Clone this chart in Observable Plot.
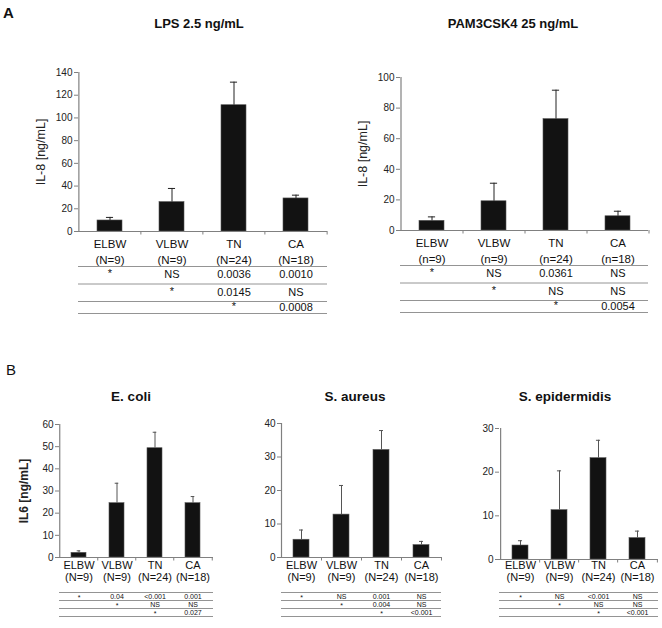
<!DOCTYPE html>
<html>
<head>
<meta charset="utf-8">
<script src="https://cdn.jsdelivr.net/npm/d3@7"></script>
<script src="https://cdn.jsdelivr.net/npm/@observablehq/plot@0.6"></script>
<style>
  body { margin: 0; background: #fff; font-family: "Liberation Sans", Arial, sans-serif; }
  #wrap { position: relative; width: 662px; height: 628px; overflow: hidden; background: #fff; }
  .title { position: absolute; font-weight: bold; font-size: 13px; color: #111; transform: translate(-50%, -50%); white-space: nowrap; }
  .plabel { position: absolute; font-size: 15px; color: #111; transform: translateY(-50%); }
</style>
</head>
<body>
<div id="wrap"></div>
<script>
// ---------------- data ----------------
const categories = ["ELBW", "VLBW", "TN", "CA"];
const nLabelsUpper = ["(N=9)", "(N=9)", "(N=24)", "(N=18)"];
const nLabelsLower = ["(n=9)", "(n=9)", "(n=24)", "(n=18)"];

const titles = ["LPS 2.5 ng/mL", "PAM3CSK4 25 ng/mL", "E. coli", "S. aureus", "S. epidermidis"];

const lpsMean = [9.7, 25.9, 111.2, 29.1];
const lpsErr = [2.7, 12.0, 20.3, 2.9];
const lpsTicks = [0, 20, 40, 60, 80, 100, 120, 140];
const lpsTable = [["*", "NS", "0.0036", "0.0010"], ["", "*", "0.0145", "NS"], ["", "", "*", "0.0008"]];

const pamMean = [6.3, 19.1, 72.8, 9.3];
const pamErr = [2.6, 11.8, 18.9, 3.3];
const pamTicks = [0, 20, 40, 60, 80, 100];
const pamTable = [["*", "NS", "0.0361", "NS"], ["", "*", "NS", "NS"], ["", "", "*", "0.0054"]];

const ecoliMean = [2.1, 24.5, 49.3, 24.5];
const ecoliErr = [0.9, 9.0, 7.2, 3.0];
const ecoliTicks = [0, 10, 20, 30, 40, 50, 60];
const ecoliTable = [["*", "0.04", "<0.001", "0.001"], ["", "*", "NS", "NS"], ["", "", "*", "0.027"]];

const aureusMean = [5.3, 12.8, 32.1, 3.7];
const aureusErr = [2.9, 8.7, 5.8, 1.1];
const aureusTicks = [0, 10, 20, 30, 40];
const aureusTable = [["*", "NS", "0.001", "NS"], ["", "*", "0.004", "NS"], ["", "", "*", "<0.001"]];

const epiMean = [3.2, 11.3, 23.2, 4.9];
const epiErr = [1.1, 9.0, 4.1, 1.6];
const epiTicks = [0, 10, 20, 30];
const epiTable = [["*", "NS", "<0.001", "NS"], ["", "*", "NS", "NS"], ["", "", "*", "<0.001"]];

// ---------------- drawing ----------------
const FONT = "Liberation Sans, Arial, sans-serif";
const AXIS = "#808080";
const wrap = document.getElementById("wrap");

function panel(cfg) {
  const {means, errs, nLabels, yTicks, yLabel, table, width, height, ml, mr, mt, mb,
         left, top, capW, labelSize, lineH, labelDy, lineOffs, rowOffs, tableSize, starShift,
         tickSize, yLabelSize, yLabelWeight, yLabelOffset, errColor} = cfg;
  const yMax = yTicks[yTicks.length - 1];
  const step = (width - ml - mr) / categories.length;
  const bw = step * 0.4;
  const pxPerUnit = (height - mt - mb) / yMax;
  const data = categories.map((c, i) => ({c, v: means[i], e: errs[i], lab: c + "\n" + nLabels[i]}));
  const cells = [];
  table.forEach((row, r) => row.forEach((t, i) => { if (t) cells.push({c: categories[i], r, t}); }));

  const marks = [
    Plot.barY(data, {x: "c", y: "v", fill: "#121212", stroke: "#555", strokeWidth: 0.6}),
    Plot.ruleX(data, {x: "c", y1: "v", y2: d => d.v + d.e, stroke: errColor, strokeWidth: 1}),
    Plot.tickY(data, {x: "c", y: d => d.v + d.e, stroke: errColor, strokeWidth: 1, insetLeft: (bw - capW) / 2, insetRight: (bw - capW) / 2}),
    Plot.axisY({ticks: yTicks, tickSize: 4, tickPadding: 2, fontSize: tickSize, color: "#222", stroke: AXIS,
                label: yLabel, labelAnchor: "center", labelArrow: "none", labelOffset: yLabelOffset}),
    Plot.ruleY([0], {stroke: AXIS, strokeWidth: 1.2}),
    Plot.ruleX([categories[0]], {x: d => d, dx: -step / 2, y1: 0, y2: yMax, stroke: AXIS, strokeWidth: 1.2}),
    Plot.ruleX(categories.slice(1), {x: d => d, dx: -step / 2, y1: 0, y2: -3.5 / pxPerUnit, stroke: AXIS}),
    Plot.ruleX([categories[categories.length - 1]], {x: d => d, dx: step / 2, y1: 0, y2: -3.5 / pxPerUnit, stroke: AXIS}),
    Plot.text(data, {x: "c", y: () => 0, text: "lab", lineAnchor: "top", dy: labelDy, fontSize: labelSize, lineHeight: lineH, fill: "#111"}),
    ...lineOffs.map(o => Plot.ruleY([0], {dy: o, stroke: "#888", strokeWidth: 0.9})),
    ...[0, 1, 2].map(r => Plot.text(cells.filter(d => d.r === r && d.t !== "*"), {x: "c", y: () => 0, text: "t", dy: rowOffs[r], fontSize: tableSize, fill: "#111", lineAnchor: "middle"})),
    ...[0, 1, 2].map(r => Plot.text(cells.filter(d => d.r === r && d.t === "*"), {x: "c", y: () => 0, text: "t", dy: rowOffs[r] + starShift, fontSize: tableSize, fill: "#111", lineAnchor: "middle"}))
  ];

  const svg = Plot.plot({
    width, height, marginLeft: ml, marginRight: mr, marginTop: mt, marginBottom: mb,
    style: {fontFamily: FONT, background: "transparent", overflow: "visible"},
    x: {domain: categories, paddingInner: 0.6, paddingOuter: 0.3, axis: null},
    y: {domain: [0, yMax], axis: null},
    marks
  });
  svg.style.position = "absolute";
  svg.style.left = left + "px";
  svg.style.top = top + "px";
  svg.querySelectorAll("g[aria-label='y-axis label'] text").forEach(t => {
    t.setAttribute("font-size", yLabelSize);
    if (yLabelWeight) t.setAttribute("font-weight", yLabelWeight);
  });
  wrap.appendChild(svg);
}

const A = {labelSize: 11.5, lineH: 1.39, labelDy: 5, lineOffs: [35, 52.5, 70, 82], rowOffs: [43, 61, 76], starShift: -1.5,
           tableSize: 11, tickSize: 10, yLabelSize: 12.5, yLabelOffset: 42, capW: 7, errColor: "#222"};
const B = {labelSize: 11, lineH: 1.1, labelDy: 2.5, lineOffs: [35, 43, 51, 59], rowOffs: [39, 47, 55], starShift: 1,
           tableSize: 7, tickSize: 10, yLabelSize: 12, yLabelWeight: "bold", capW: 4, errColor: "#555"};

panel({...A, means: lpsMean, errs: lpsErr, nLabels: nLabelsUpper, yTicks: lpsTicks, yLabel: "IL-8 [ng/mL]", table: lpsTable,
       left: 0, top: 60, width: 331, height: 260, ml: 78, mr: 4, mt: 12, mb: 89});
panel({...A, means: pamMean, errs: pamErr, nLabels: nLabelsLower, yTicks: pamTicks, yLabel: "IL-8 [ng/mL]", table: pamTable,
       left: 331, top: 60, width: 331, height: 260, ml: 69, mr: 14, mt: 17, mb: 90});
panel({...B, means: ecoliMean, errs: ecoliErr, nLabels: nLabelsUpper, yTicks: ecoliTicks, yLabel: "IL6 [ng/mL]", yLabelOffset: 40, table: ecoliTable,
       left: 0, top: 410, width: 220, height: 215, ml: 59, mr: 7, mt: 14, mb: 68});
panel({...B, means: aureusMean, errs: aureusErr, nLabels: nLabelsUpper, yTicks: aureusTicks, yLabel: null, yLabelOffset: 40, table: aureusTable,
       left: 220, top: 410, width: 222, height: 215, ml: 61, mr: 1, mt: 13, mb: 68});
panel({...B, means: epiMean, errs: epiErr, nLabels: nLabelsUpper, yTicks: epiTicks, yLabel: null, yLabelOffset: 40, table: epiTable,
       left: 440, top: 410, width: 222, height: 215, ml: 59, mr: 4, mt: 18, mb: 66,
       labelDy: 1, lineOffs: [33, 41, 49, 57], rowOffs: [37, 45, 53]});

// titles and panel letters
const titlePos = [[199, 23, 13], [513, 23, 13], [131, 396, 13.5], [355, 396, 13.5], [565, 396, 13.5]];
titles.forEach((t, i) => {
  const d = document.createElement("div");
  d.className = "title";
  d.textContent = t;
  d.style.left = titlePos[i][0] + "px";
  d.style.top = titlePos[i][1] + "px";
  d.style.fontSize = titlePos[i][2] + "px";
  wrap.appendChild(d);
});
[["A", 3, 12, "bold"], ["B", 6, 369, "normal"]].forEach(([t, x, y, w]) => {
  const d = document.createElement("div");
  d.className = "plabel";
  d.textContent = t;
  d.style.left = x + "px";
  d.style.top = y + "px";
  d.style.fontWeight = w;
  wrap.appendChild(d);
});
</script>
</body>
</html>
